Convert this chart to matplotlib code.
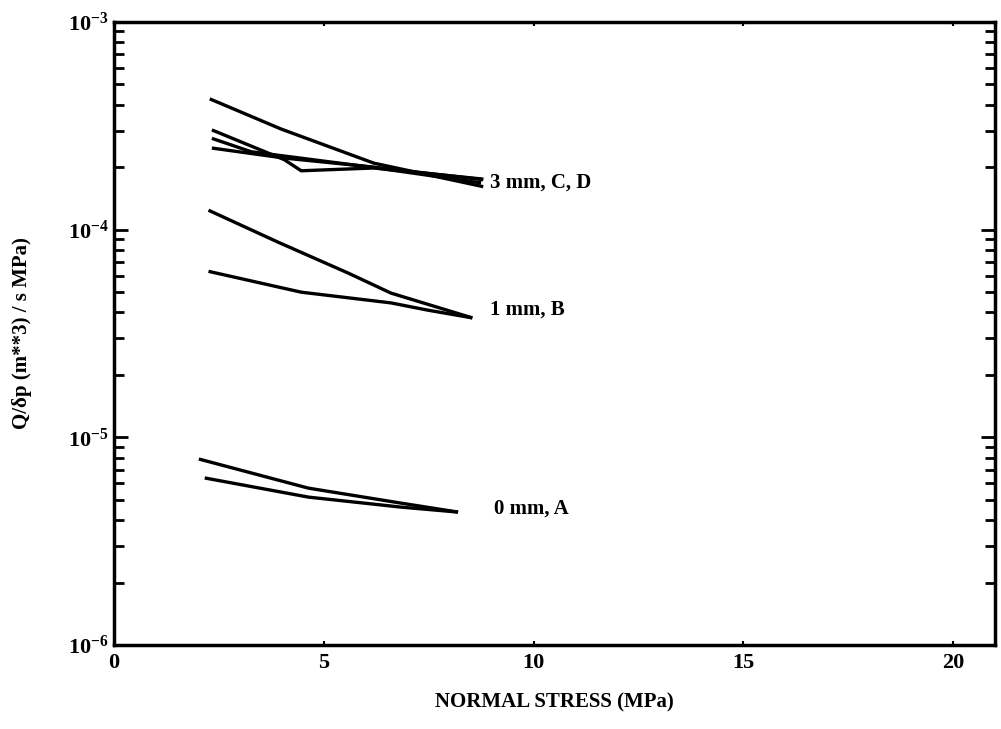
import matplotlib
matplotlib.use("Agg")
import matplotlib.pyplot as plt
from matplotlib.ticker import LogLocator, NullFormatter, FixedLocator

plt.rcParams['font.family'] = ['Liberation Serif', 'DejaVu Serif']
plt.rcParams['font.weight'] = 'bold'
plt.rcParams['mathtext.fontset'] = 'custom'
plt.rcParams['mathtext.rm'] = 'Liberation Serif:bold'
plt.rcParams['mathtext.it'] = 'Liberation Serif:bold'
plt.rcParams['mathtext.bf'] = 'Liberation Serif:bold'

# flow / pressure vs normal stress, per aperture
x_3a = [2.28, 3.98, 6.19, 8.8]
y_3a = [4.26e-4, 3.05e-4, 2.09e-4, 1.61e-4]
x_3b = [2.33, 4.06, 4.46, 6.19, 8.8]
y_3b = [3.02e-4, 2.17e-4, 1.92e-4, 1.98e-4, 1.75e-4]
x_3c = [2.33, 3.27, 6.19, 8.75]
y_3c = [2.75e-4, 2.37e-4, 1.99e-4, 1.68e-4]
x_3d = [2.33, 4.06, 6.19, 8.8]
y_3d = [2.47e-4, 2.21e-4, 2.0e-4, 1.74e-4]

x_1a = [2.25, 3.91, 5.58, 6.6, 8.54]
y_1a = [1.24e-4, 8.7e-5, 6.18e-5, 4.95e-5, 3.76e-5]
x_1b = [2.25, 4.46, 6.6, 7.47, 8.54]
y_1b = [6.3e-5, 5.0e-5, 4.44e-5, 4.1e-5, 3.76e-5]

x_0a = [2.02, 4.63, 6.83, 8.2]
y_0a = [7.87e-6, 5.7e-6, 4.83e-6, 4.37e-6]
x_0b = [2.16, 4.63, 6.83, 8.2]
y_0b = [6.38e-6, 5.16e-6, 4.62e-6, 4.37e-6]

labels = ['3 mm, C, D', '1 mm, B', '0 mm, A']
label_x = [8.97, 8.97, 9.05]
label_y = [1.68e-4, 4.1e-5, 4.55e-6]

fig = plt.figure(figsize=(10.01, 7.29), dpi=100)
ax = fig.add_axes([0.114, 0.115, 0.88, 0.855])

for xs, ys in [(x_3a, y_3a), (x_3b, y_3b), (x_3c, y_3c), (x_3d, y_3d),
               (x_1a, y_1a), (x_1b, y_1b), (x_0a, y_0a), (x_0b, y_0b)]:
    ax.plot(xs, ys, color='black', lw=2.4, solid_capstyle='butt')

for t, tx, ty in zip(labels, label_x, label_y):
    ax.text(tx, ty, t, fontsize=15, fontweight='bold', va='center', ha='left')

ax.set_yscale('log')
ax.set_xlim(0, 21)
ax.set_ylim(1e-6, 1e-3)

ax.xaxis.set_major_locator(FixedLocator([0, 5, 10, 15, 20]))
ax.set_xticklabels(['0', '5', '10', '15', '20'])
ax.yaxis.set_minor_locator(LogLocator(base=10, subs=range(2, 10), numticks=10))
ax.yaxis.set_minor_formatter(NullFormatter())
ax.set_yticks([1e-6, 1e-5, 1e-4, 1e-3])
ax.set_yticklabels(['10$^{-6}$', '10$^{-5}$', '10$^{-4}$', '10$^{-3}$'])

ax.tick_params(axis='x', direction='in', length=3, width=1.5, top=True,
               labelsize=16, pad=6)
ax.tick_params(axis='y', which='major', direction='in', length=10, width=2,
               right=True, labelsize=16, pad=4)
ax.tick_params(axis='y', which='minor', direction='in', length=7, width=2,
               right=True)

for s in ax.spines.values():
    s.set_linewidth(2.5)

ax.set_xlabel('NORMAL STRESS (MPa)', fontsize=15, fontweight='bold', labelpad=14)
ax.set_ylabel('Q/δp (m**3) / s MPa)', fontsize=15, fontweight='bold', labelpad=26)

fig.savefig('out.png', dpi=100)
